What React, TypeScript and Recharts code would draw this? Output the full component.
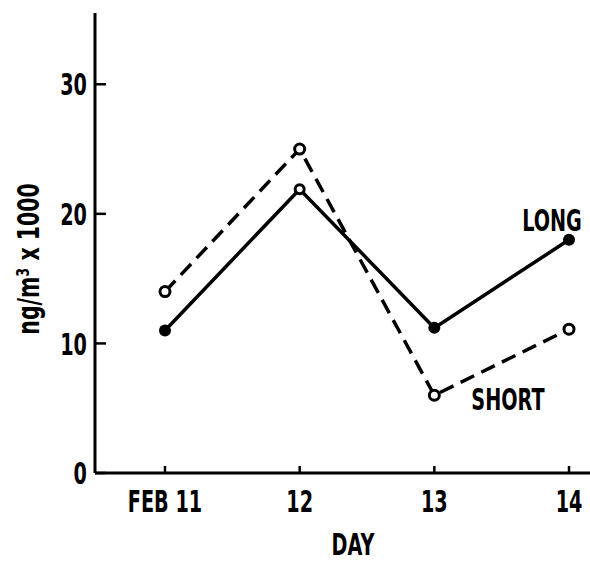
import { LineChart, Line, XAxis, YAxis } from 'recharts';

const days = ['FEB 11', '12', '13', '14'];
const longValues = [11, 21.9, 11.2, 18];
const shortValues = [14, 25, 6, 11.1];
const yTicks = [0, 10, 20, 30];

const font = "'DejaVu Sans', sans-serif";

const data = days.map((day, i) => ({ day, long: longValues[i], short: shortValues[i] }));

// the original lettering is a tall condensed bold face; squeeze DejaVu Bold to match
const SQUEEZE = 0.62;
const textStyle = { fontFamily: font, fontWeight: 700, fontSize: 31, fill: '#000' };

const Condensed = ({ x, y, anchor, children, dy }: any) => (
  <text
    x={0}
    y={0}
    dy={dy}
    transform={`translate(${x},${y}) scale(${SQUEEZE},1)`}
    textAnchor={anchor}
    style={textStyle}
  >
    {children}
  </text>
);

const XTick = (props: any) => (
  <Condensed x={props.x} y={props.y} anchor="middle" dy="0.73em">
    {props.payload.value}
  </Condensed>
);

const YTick = (props: any) => (
  <Condensed x={props.x} y={props.y} anchor="end" dy="0.36em">
    {props.payload.value}
  </Condensed>
);

// long series: filled dots, except the peak which is drawn open
const LongDot = (props: any) => {
  const { cx, cy, index } = props;
  if (index === 1) {
    return <circle key={`l${index}`} cx={cx} cy={cy} r={4.5} fill="#fff" stroke="#000" strokeWidth={3} />;
  }
  return <circle key={`l${index}`} cx={cx} cy={cy} r={6} fill="#000" />;
};

const ShortDot = (props: any) => {
  const { cx, cy, index } = props;
  return <circle key={`s${index}`} cx={cx} cy={cy} r={5} fill="#fff" stroke="#000" strokeWidth={3} />;
};

const longLabel = (p: any) =>
  p.index === 3 ? (
    <Condensed key="longlbl" x={p.x - 17} y={p.y - 9} anchor="middle">
      LONG
    </Condensed>
  ) : null;

const shortLabel = (p: any) =>
  p.index === 2 ? (
    <Condensed key="shortlbl" x={p.x + 37} y={p.y + 15} anchor="start">
      SHORT
    </Condensed>
  ) : null;

export default function App() {
  return (
    <div style={{ position: 'absolute', left: 0, top: 0, background: '#fff' }}>
      <LineChart width={590} height={561} data={data} margin={{ top: 13, right: 0, bottom: 0, left: 0 }}>
        <XAxis
          dataKey="day"
          height={88}
          padding={{ left: 70, right: 21 }}
          axisLine={{ stroke: '#000', strokeWidth: 3 }}
          tickLine={{ stroke: '#000', strokeWidth: 2.5 }}
          tickSize={-7}
          tickMargin={23}
          tick={XTick}
          label={{
            content: () => (
              <Condensed x={353} y={555} anchor="middle">
                DAY
              </Condensed>
            ),
          }}
        />
        <YAxis
          width={95}
          domain={[0, 35.5]}
          ticks={yTicks}
          axisLine={{ stroke: '#000', strokeWidth: 3 }}
          tickLine={{ stroke: '#000', strokeWidth: 2.5 }}
          tickSize={-11}
          tickMargin={19}
          tick={YTick}
          label={{
            content: () => (
              <text
                x={0}
                y={0}
                transform="translate(39,259) rotate(-90) scale(0.66,1)"
                textAnchor="middle"
                style={textStyle}
              >
                ng/m³ x 1000
              </text>
            ),
          }}
        />
        <Line
          dataKey="short"
          stroke="#000"
          strokeWidth={3.5}
          strokeDasharray="15 8"
          dot={ShortDot}
          label={shortLabel}
          isAnimationActive={false}
        />
        <Line
          dataKey="long"
          stroke="#000"
          strokeWidth={3.5}
          dot={LongDot}
          label={longLabel}
          isAnimationActive={false}
        />
      </LineChart>
    </div>
  );
}
